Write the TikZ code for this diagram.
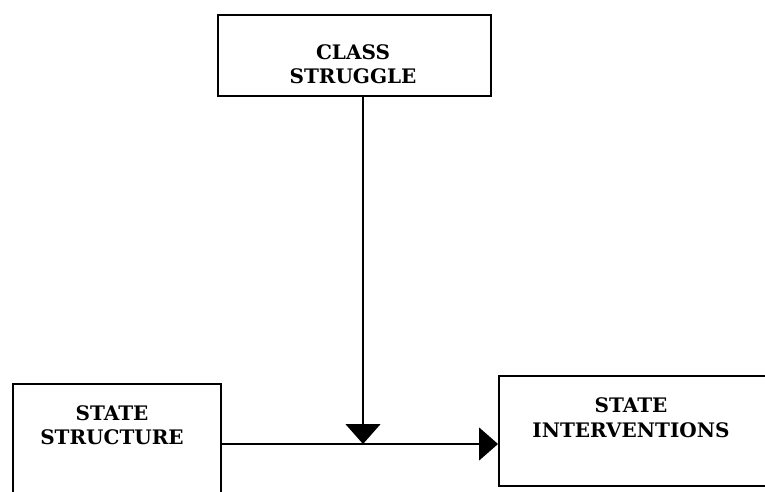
\documentclass[tikz,border=0pt]{standalone}
\usepackage{fontspec}
\setmainfont{DejaVu Serif}
\usetikzlibrary{arrows.meta}
\begin{document}
\begin{tikzpicture}[x=1pt,y=-1pt,
  framebox/.style={draw, line width=1.7pt, rectangle, inner sep=0pt, anchor=north west},
  boxtext/.style={inner sep=0pt, align=center, font=\fontsize{20}{24.5}\selectfont\bfseries},
  link/.style={line width=1.3pt}]
  \clip (0,0) rectangle (765,492);
  % boxes
  \node[framebox, minimum width=273pt, minimum height=81pt] (cs) at (217,14) {};
  \node[framebox, minimum width=208pt, minimum height=130pt] (ss) at (12,383) {};
  \node[framebox, minimum width=275pt, minimum height=110pt] (si) at (498,375) {};
  % box texts
  \node[boxtext] (csl) at (353,64) {CLASS\\STRUGGLE};
  \node[boxtext] (ssl) at (112,425) {STATE\\STRUCTURE};
  \node[boxtext] (sil) at (631,417.5) {STATE\\INTERVENTIONS};
  % junction where class struggle meets the structure-intervention link
  \coordinate (join) at (363,444);
  \draw[link, -{Triangle[length=19pt,width=33pt]}] (ss.east |- join) -- (si.west |- join);
  \draw[link, -{Triangle[length=20pt,width=35pt]}] (cs.south -| join) -- (join);
\end{tikzpicture}
\end{document}
